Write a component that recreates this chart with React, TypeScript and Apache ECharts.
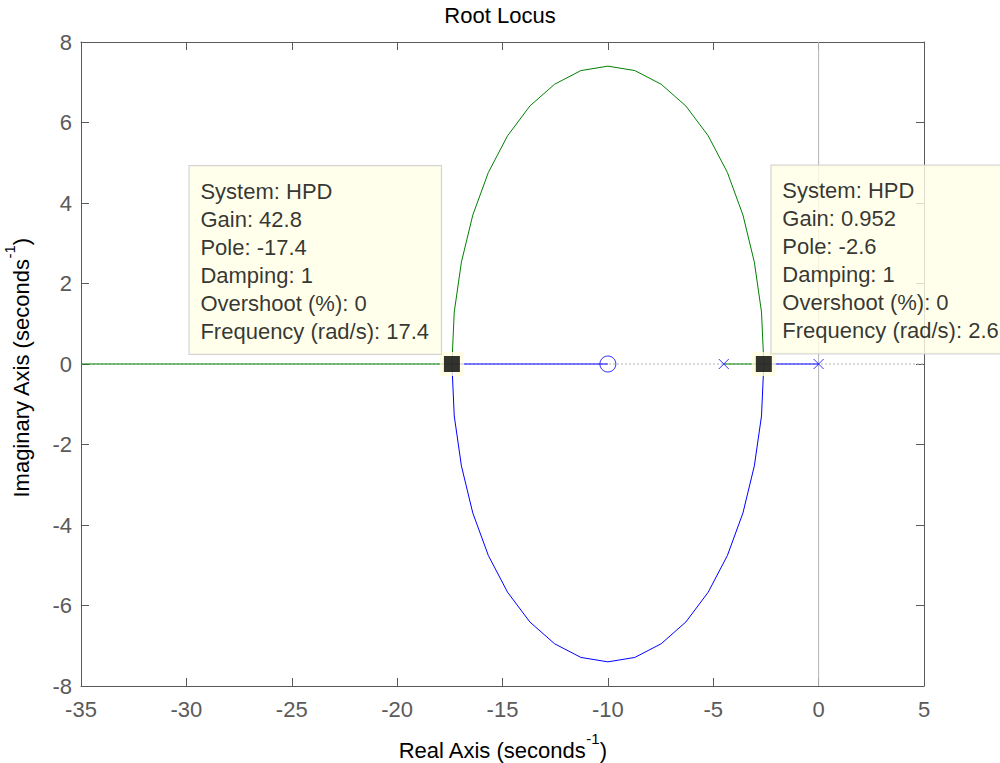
import React, { useEffect, useRef } from "react";
import * as echarts from "echarts";

// ---- data ----
const xMin = -35;
const xMax = 5;
const yMin = -8;
const yMax = 8;

// upper arc of the locus (green branch), from the right breakaway to the left one
const upperArc: [number, number][] = [
  [-2.6, 0], [-2.71, 1.29], [-3.05, 2.53], [-3.59, 3.7], [-4.33, 4.76],
  [-5.24, 5.67], [-6.3, 6.41], [-7.47, 6.95], [-8.72, 7.29], [-10, 7.4],
  [-11.28, 7.29], [-12.53, 6.95], [-13.7, 6.41], [-14.76, 5.67], [-15.67, 4.76],
  [-16.41, 3.7], [-16.95, 2.53], [-17.29, 1.29], [-17.4, 0],
];
// lower arc of the locus (blue branch)
const lowerArc: [number, number][] = [
  [-2.6, 0], [-2.71, -1.29], [-3.05, -2.53], [-3.59, -3.7], [-4.33, -4.76],
  [-5.24, -5.67], [-6.3, -6.41], [-7.47, -6.95], [-8.72, -7.29], [-10, -7.4],
  [-11.28, -7.29], [-12.53, -6.95], [-13.7, -6.41], [-14.76, -5.67], [-15.67, -4.76],
  [-16.41, -3.7], [-16.95, -2.53], [-17.29, -1.29], [-17.4, 0],
];
const greenStart: [number, number][] = [[-4.5, 0]];
const greenEnd: [number, number][] = [[-35, 0]];
const blueStart: [number, number][] = [[0, 0]];
const blueEnd: [number, number][] = [[-10, 0]];

const poles: [number, number][] = [[-4.5, 0], [0, 0]];
const zeros: [number, number][] = [[-10, 0]];

const dataTips: [number, number][] = [[-17.4, 0], [-2.6, 0]];
const tipTexts: string[][] = [
  ["System: HPD", "Gain: 42.8", "Pole: -17.4", "Damping: 1", "Overshoot (%): 0", "Frequency (rad/s): 17.4"],
  ["System: HPD", "Gain: 0.952", "Pole: -2.6", "Damping: 1", "Overshoot (%): 0", "Frequency (rad/s): 2.6"],
];

const FONT = 'Arial, "Liberation Sans", sans-serif';
const AXIS_COLOR = "#5a5a5a";

export default function App() {
  const ref = useRef<HTMLDivElement>(null);

  useEffect(() => {
    if (!ref.current) return;
    const chart = echarts.init(ref.current, undefined, { renderer: "svg" });

    const nameRich = {
      a: { fontSize: 22, fontFamily: FONT, fill: "#000", color: "#000", lineHeight: 30, verticalAlign: "bottom" },
      s: { fontSize: 15, fontFamily: FONT, fill: "#000", color: "#000", lineHeight: 16, verticalAlign: "top" },
    };

    const baseAxis = {
      type: "value",
      axisLine: { show: true, onZero: false, lineStyle: { color: AXIS_COLOR, width: 1 } },
      axisTick: { show: true, inside: true, length: 8, lineStyle: { color: AXIS_COLOR, width: 1 } },
      splitLine: { show: false },
    };

    const tipBox = (i: number, position: number[]) => ({
      show: true,
      position,
      align: "left",
      verticalAlign: "bottom",
      formatter: tipTexts[i].join("\n"),
      fontFamily: FONT,
      fontSize: 22,
      lineHeight: 28,
      color: "#000",
      backgroundColor: "#ffffe6",
      borderColor: "#c8c8c8",
      borderWidth: 1,
      padding: [11, 12, 9, 11],
    });

    chart.setOption({
      animation: false,
      backgroundColor: "#ffffff",
      title: {
        text: "Root Locus",
        left: "center",
        top: 4,
        padding: 0,
        textStyle: { fontFamily: FONT, fontSize: 22, fontWeight: "normal", color: "#000" },
      },
      grid: { left: 81, right: 76, top: 42, bottom: 77, containLabel: false, outerBoundsMode: "none" },
      graphic: [
        {
          type: "text",
          x: 17,
          y: 368,
          rotation: Math.PI / 2,
          silent: true,
          style: {
            text: "{a|Imaginary Axis (seconds}{s|-1}{a|)}",
            rich: nameRich,
            align: "center",
            verticalAlign: "middle",
          },
        },
      ],
      xAxis: [
        {
          ...baseAxis,
          position: "bottom",
          min: xMin,
          max: xMax,
          interval: 5,
          axisLabel: { color: AXIS_COLOR, fontSize: 22, fontFamily: FONT, margin: 12 },
          name: "{a|Real Axis (seconds}{s|-1}{a|)}",
          nameLocation: "middle",
          nameGap: 45,
          nameTextStyle: { rich: nameRich },
        },
        {
          ...baseAxis,
          position: "top",
          min: xMin,
          max: xMax,
          interval: 5,
          axisLabel: { show: false },
        },
      ],
      yAxis: [
        {
          ...baseAxis,
          position: "left",
          min: yMin,
          max: yMax,
          interval: 2,
          axisLabel: { color: AXIS_COLOR, fontSize: 22, fontFamily: FONT, margin: 9 },
        },
        {
          ...baseAxis,
          position: "right",
          min: yMin,
          max: yMax,
          interval: 2,
          axisLabel: { show: false },
        },
      ],
      series: [
        {
          type: "line",
          data: [[xMin, 0], [xMax, 0]],
          symbol: "none",
          silent: true,
          lineStyle: { color: "#b4b4b4", width: 1, type: [2, 2] },
          z: 1,
        },
        {
          type: "line",
          data: [[0, yMin], [0, yMax]],
          symbol: "none",
          silent: true,
          lineStyle: { color: "#b4b4b4", width: 1 },
          z: 1,
        },
        {
          type: "line",
          name: "green",
          data: [...greenStart, ...upperArc, ...greenEnd],
          symbol: "none",
          lineStyle: { color: "#008000", width: 1 },
          z: 2,
        },
        {
          type: "line",
          name: "blue",
          data: [...blueStart, ...lowerArc, ...blueEnd],
          symbol: "none",
          lineStyle: { color: "#0000ff", width: 1 },
          z: 2,
        },
        {
          type: "scatter",
          data: zeros,
          symbol: "circle",
          symbolSize: 16,
          itemStyle: { color: "rgba(0,0,0,0)", borderColor: "#0000ff", borderWidth: 1 },
          z: 3,
        },
        {
          type: "scatter",
          data: poles,
          symbol: "path://M0,0L10,10M10,0L0,10",
          symbolSize: 10,
          itemStyle: { color: "rgba(0,0,0,0)", borderColor: "#0000ff", borderWidth: 1 },
          z: 3,
        },
        {
          type: "scatter",
          symbol: "rect",
          symbolSize: 24,
          itemStyle: { color: "#fffde0" },
          z: 4,
          data: [
            { value: dataTips[0], label: tipBox(0, [-250.5, 2]) },
            { value: dataTips[1], label: tipBox(1, [19.5, 1.5]) },
          ],
        },
        {
          type: "scatter",
          symbol: "rect",
          symbolSize: 16,
          itemStyle: { color: "#000" },
          z: 5,
          data: dataTips.map((p) => [p[0], p[1]]),
        },
      ],
    });

    return () => chart.dispose();
  }, []);

  return (
    <div
      ref={ref}
      style={{ position: "absolute", left: 0, top: 0, width: 1000, height: 763, background: "#fff" }}
    />
  );
}
